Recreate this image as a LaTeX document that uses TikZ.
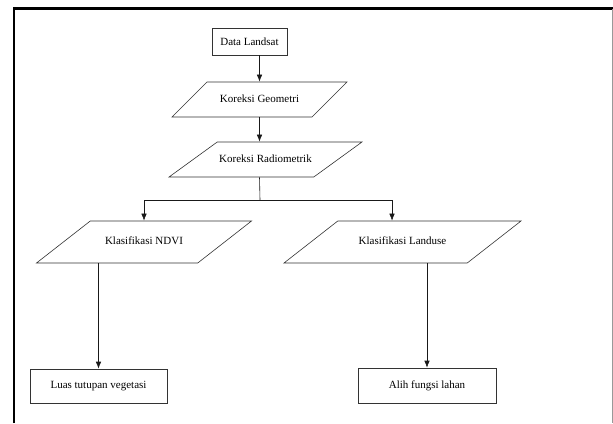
\documentclass[tikz,border=0pt]{standalone}
\usepackage{fontspec}
\setmainfont{Liberation Serif}
\usetikzlibrary{shapes.geometric,arrows.meta}

\tikzset{
    kotak/.style={draw=black!80,line width=0.6pt,rectangle,inner sep=2pt,font=\fontsize{11}{13}\selectfont},
    jajar/.style={draw=black!80,line width=0.6pt,trapezium,trapezium stretches body,
        trapezium left angle=#1,trapezium right angle=180-#1,inner xsep=2pt,
        text height=8pt,text depth=2.5pt,font=\fontsize{11}{13}\selectfont},
    panah/.style={-{Latex[length=7pt,width=5.5pt]},line width=0.6pt,black!90},
    garis/.style={line width=0.6pt,black!90}
}

\begin{document}
\begin{tikzpicture}[x=1pt,y=-1pt]
        \useasboundingbox (0,0) rectangle (613,423);
        %% frame
        \draw[line width=2.4pt] (14,423) -- (14,8.5) -- (613,8.5);
        \draw[black!40,line width=0.8pt] (612,9) -- (612,423);
        %% nodes
        \node[kotak,minimum width=75pt,minimum height=27pt] (landsat) at (249.5,41.5) {Data Landsat};
        \node[jajar=45,inner ysep=12.25pt,minimum width=175pt] (geo) at (259.5,99.5) {Koreksi Geometri};
        \node[jajar=36,inner ysep=12.25pt,minimum width=191pt] (radio) at (265.5,159.5) {Koreksi Radiometrik};
        \node[jajar=38,inner ysep=15.75pt,minimum width=215pt] (ndvi) at (144,242) {Klasifikasi NDVI};
        \node[jajar=38,inner ysep=15.75pt,minimum width=237pt] (landuse) at (402.5,242) {Klasifikasi Landuse};
        \node[kotak,minimum width=137pt,minimum height=34pt] (luas) at (98.5,386) {Luas tutupan vegetasi};
        \node[kotak,minimum width=138pt,minimum height=35pt] (alih) at (427,385.5) {Alih fungsi lahan};
        \coordinate (cabang) at (260,200);
        %% connectors
        \draw[panah] (landsat.south -| geo.north) -- (geo.north);
        \draw[panah] (geo.south) -- (geo.south |- radio.north);
        \draw[garis] (radio.south -| geo.south) -- (cabang);
        \draw[panah] (cabang) -| (ndvi.north);
        \draw[panah] (cabang) -| ([xshift=-10.5pt]landuse.north);
        \draw[panah] (luas.north |- ndvi.south) -- (luas.north);
        \draw[panah] (alih.north |- landuse.south) -- (alih.north);
    \end{tikzpicture}
\end{document}
